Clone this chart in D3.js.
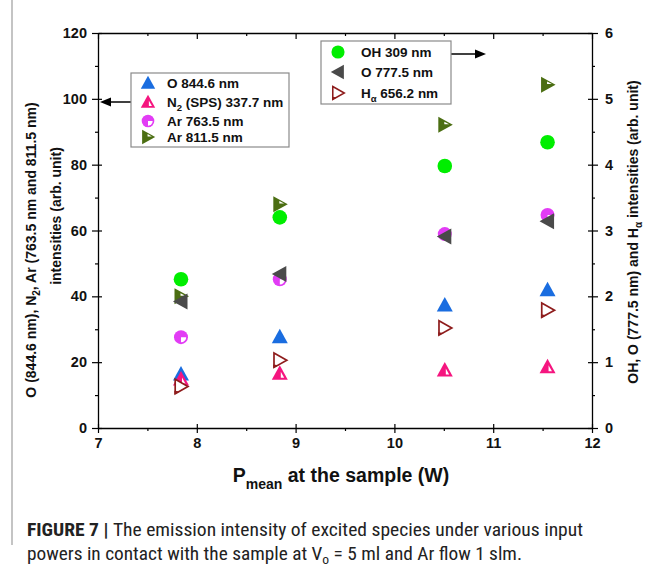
<!DOCTYPE html>
<html><head><meta charset="utf-8">
<script src="https://cdn.jsdelivr.net/npm/d3@7"></script>
<style>
html,body{margin:0;padding:0;background:#fff;}
svg{display:block;}
text{font-family:"Liberation Sans",Arial,sans-serif;}
</style></head>
<body>
<svg id="chart" width="648" height="575"></svg>
<script>
// ---------- data ----------
const power = [7.84, 8.84, 10.51, 11.55];          // P_mean (W)
const O844  = [16.4, 27.7, 37.4, 42.0];            // left axis
const N2SPS = [14.9, 16.6, 17.6, 18.6];            // left axis
const Ar763 = [27.6, 45.2, 58.9, 64.7];            // left axis
const Ar811 = [40.0, 68.0, 92.1, 104.3];           // left axis
const OH309 = [2.26, 3.20, 3.98, 4.34];            // right axis
const O777  = [1.92, 2.34, 2.91, 3.14];            // right axis
const Ha656 = [0.63, 1.03, 1.52, 1.79];            // right axis
const xTicks = [7, 8, 9, 10, 11, 12];
const yLeftTicks = [0, 20, 40, 60, 80, 100, 120];
const yRightTicks = [0, 1, 2, 3, 4, 5, 6];

// ---------- layout ----------
const svg = d3.select("#chart");
const L = 98, R = 592, T = 33, B = 428;
const x = d3.scaleLinear().domain([7, 12]).range([L, R]);
const yL = d3.scaleLinear().domain([0, 120]).range([B, T]);
const yR = d3.scaleLinear().domain([0, 6]).range([B, T]);
const FONT = "'Liberation Sans', Arial, sans-serif";

// left figure border line
svg.append("line").attr("x1", 12).attr("x2", 12).attr("y1", 0).attr("y2", 545)
  .attr("stroke", "#c4c4c4").attr("stroke-width", 2);

// ---------- axes ----------
function styleAxis(g) {
  g.attr("font-family", FONT);
  g.select(".domain").attr("stroke", "#000").attr("stroke-width", 1.3);
  g.selectAll(".tick line").attr("stroke", "#000").attr("stroke-width", 1.2);
  g.selectAll(".tick text").attr("font-size", 14.5).attr("font-weight", "bold").attr("fill", "#111");
}
const minorX = d3.range(7.5, 12, 1);
const minorYL = d3.range(10, 120, 20);
const minorYR = d3.range(0.5, 6, 1);
function minorStyle(g) { g.select(".domain").remove(); g.selectAll("line").attr("stroke", "#000").attr("stroke-width", 1.2); }

// bottom
const gB = svg.append("g").attr("transform", `translate(0,${B})`)
  .call(d3.axisBottom(x).tickValues(xTicks).tickFormat(d3.format("d")).tickSize(5).tickPadding(5).tickSizeOuter(0));
styleAxis(gB);
gB.selectAll(".tick line").attr("y1", -4);
svg.append("g").attr("transform", `translate(0,${B})`)
  .call(d3.axisBottom(x).tickValues(minorX).tickFormat("").tickSize(3).tickSizeOuter(0)).call(minorStyle);
// top
const gT = svg.append("g").attr("transform", `translate(0,${T})`)
  .call(d3.axisTop(x).tickValues(xTicks).tickFormat("").tickSize(-6).tickSizeOuter(0));
styleAxis(gT);
svg.append("g").attr("transform", `translate(0,${T})`)
  .call(d3.axisTop(x).tickValues(minorX).tickFormat("").tickSize(-3).tickSizeOuter(0)).call(minorStyle);
// left
const gL = svg.append("g").attr("transform", `translate(${L},0)`)
  .call(d3.axisLeft(yL).tickValues(yLeftTicks).tickFormat(d3.format("d")).tickSize(6).tickPadding(5).tickSizeOuter(0));
styleAxis(gL);
gL.selectAll(".tick line").attr("x1", 4);
svg.append("g").attr("transform", `translate(${L},0)`)
  .call(d3.axisLeft(yL).tickValues(minorYL).tickFormat("").tickSize(3).tickSizeOuter(0)).call(minorStyle);
// right
const gR = svg.append("g").attr("transform", `translate(${R},0)`)
  .call(d3.axisRight(yR).tickValues(yRightTicks).tickFormat(d3.format("d")).tickSize(6).tickPadding(7).tickSizeOuter(0));
styleAxis(gR);
gR.selectAll(".tick line").attr("x1", -4);
svg.append("g").attr("transform", `translate(${R},0)`)
  .call(d3.axisRight(yR).tickValues(minorYR).tickFormat("").tickSize(3).tickSizeOuter(0)).call(minorStyle);

// ---------- axis titles ----------
const xt = svg.append("text").attr("x", 341).attr("y", 482).attr("text-anchor", "middle")
  .attr("font-size", 19.5).attr("font-weight", "bold").attr("fill", "#111");
xt.append("tspan").text("P");
xt.append("tspan").attr("font-size", 14).attr("dy", 7).text("mean");
xt.append("tspan").attr("dy", -7).text(" at the sample (W)");

const yl1 = svg.append("text").attr("transform", "translate(36,250) rotate(-90)")
  .attr("text-anchor", "middle").attr("font-size", 14).attr("font-weight", "bold").attr("fill", "#111");
yl1.append("tspan").text("O (844.6 nm), N");
yl1.append("tspan").attr("font-size", 10).attr("dy", 4).text("2");
yl1.append("tspan").attr("dy", -4).text(", Ar (763.5 nm and 811.5 nm)");
svg.append("text").attr("transform", "translate(61,216) rotate(-90)")
  .attr("text-anchor", "middle").attr("font-size", 14).attr("font-weight", "bold").attr("fill", "#111")
  .text("intensities (arb. unit)");

const yr = svg.append("text").attr("transform", "translate(638,232) rotate(-90)")
  .attr("text-anchor", "middle").attr("font-size", 14).attr("font-weight", "bold").attr("fill", "#111");
yr.append("tspan").text("OH, O (777.5 nm) and H");
yr.append("tspan").attr("font-size", 10).attr("dy", 4).text("α");
yr.append("tspan").attr("dy", -4).text(" intensities (arb. unit)");

// ---------- marker shapes ----------
const C = {
  O844: "#1a6de0", N2: "#f5157f", Ar763: "#e23cf5", Ar811: "#4b6e12",
  OH: "#00ee00", O777: "#4a4a4a", Ha: "#8e1c1c"
};
function drawMarker(g, type) {
  if (type === "O844") {
    g.append("path").attr("d", "M0,-8L8,6.5L-8,6.5Z").attr("fill", C.O844);
  } else if (type === "N2") {
    g.append("path").attr("d", "M0,-8L8,6.5L-8,6.5Z").attr("fill", C.N2);
    g.append("path").attr("d", "M1,-1.5L1,4.5L4.4,4.5Z").attr("fill", "#fff");
  } else if (type === "Ar763") {
    g.append("circle").attr("r", 7).attr("fill", C.Ar763);
    g.append("path").attr("d", d3.arc()({innerRadius: 0, outerRadius: 5.2, startAngle: Math.PI / 2, endAngle: Math.PI})).attr("fill", "#fff");
  } else if (type === "Ar811") {
    g.append("path").attr("d", "M-6.5,-8L8,0L-6.5,8Z").attr("fill", C.Ar811);
    g.append("path").attr("d", "M-0.5,-3.2L4.3,-0.6L-0.5,-0.6Z").attr("fill", "#fff");
  } else if (type === "OH") {
    g.append("circle").attr("r", 7.3).attr("fill", C.OH);
  } else if (type === "O777") {
    g.append("path").attr("d", "M-8,0L6.5,-8L6.5,8Z").attr("fill", C.O777);
  } else if (type === "Ha") {
    g.append("path").attr("d", "M-5.8,-7.2L7,0L-5.8,7.2Z").attr("fill", "#fff")
      .attr("stroke", C.Ha).attr("stroke-width", 1.7).attr("stroke-linejoin", "miter");
    g.append("path").attr("d", "M-6.6,7.8L-6.6,4.2L-1,5Z").attr("fill", C.Ha);
  }
}

// ---------- series ----------
const series = [
  {type: "Ar763", vals: Ar763, scale: yL},
  {type: "O844",  vals: O844,  scale: yL},
  {type: "N2",    vals: N2SPS, scale: yL},
  {type: "Ar811", vals: Ar811, scale: yL},
  {type: "OH",    vals: OH309, scale: yR},
  {type: "O777",  vals: O777,  scale: yR},
  {type: "Ha",    vals: Ha656, scale: yR}
];
series.forEach(s => {
  svg.append("g").selectAll("g").data(s.vals).join("g")
    .attr("transform", (d, i) => `translate(${x(power[i])},${s.scale(d)})`)
    .each(function () { drawMarker(d3.select(this), s.type); });
});

// ---------- legends ----------
function arrowHead(x0, y0, dir) {
  svg.append("path").attr("d", `M${x0},${y0}L${x0 - dir * 11},${y0 - 4.5}L${x0 - dir * 11},${y0 + 4.5}Z`).attr("fill", "#000");
}
// left legend
svg.append("line").attr("x1", 131).attr("x2", 108).attr("y1", 102).attr("y2", 102).attr("stroke", "#000").attr("stroke-width", 1.5);
arrowHead(100, 102, -1);
svg.append("rect").attr("x", 131).attr("y", 73).attr("width", 158).attr("height", 74)
  .attr("fill", "#fff").attr("stroke", "#8a8a8a").attr("stroke-width", 1.2);
const legL = [
  {type: "O844", y: 83, label: ["O 844.6 nm"]},
  {type: "N2", y: 102, label: ["N", "2", " (SPS) 337.7 nm"]},
  {type: "Ar763", y: 121, label: ["Ar 763.5 nm"]},
  {type: "Ar811", y: 137, label: ["Ar 811.5 nm"]}
];
const legR = [
  {type: "OH", y: 52, label: ["OH 309 nm"]},
  {type: "O777", y: 72, label: ["O 777.5 nm"]},
  {type: "Ha", y: 93, label: ["H", "α", " 656.2 nm"]}
];
function drawLegend(items, sx, tx) {
  items.forEach(it => {
    const g = svg.append("g").attr("transform", `translate(${sx},${it.y}) scale(0.9)`);
    drawMarker(g, it.type);
    const t = svg.append("text").attr("x", tx).attr("y", it.y + 5).attr("font-size", 13.5)
      .attr("font-weight", "bold").attr("fill", "#111");
    t.append("tspan").text(it.label[0]);
    if (it.label.length > 1) {
      t.append("tspan").attr("font-size", 9.5).attr("dy", 4).text(it.label[1]);
      t.append("tspan").attr("dy", -4).text(it.label[2]);
    }
  });
}
drawLegend(legL, 148, 167);
// right legend
svg.append("line").attr("x1", 451).attr("x2", 478).attr("y1", 54).attr("y2", 54).attr("stroke", "#000").attr("stroke-width", 1.5);
arrowHead(486, 54, 1);
svg.append("rect").attr("x", 321).attr("y", 41).attr("width", 130).attr("height", 63)
  .attr("fill", "#fff").attr("stroke", "#8a8a8a").attr("stroke-width", 1.2);
drawLegend(legR, 338, 361);

// ---------- caption ----------
const capFont = "'Liberation Sans Narrow','Roboto Condensed','Arial Narrow',sans-serif";
const cap1 = svg.append("text").attr("x", 27).attr("y", 536).attr("font-size", 18.5)
  .attr("fill", "#222").attr("textLength", 556).attr("lengthAdjust", "spacingAndGlyphs")
  .style("font-family", capFont);
cap1.append("tspan").attr("font-weight", "bold").text("FIGURE 7 | ");
cap1.append("tspan").text("The emission intensity of excited species under various input");
const cap2 = svg.append("text").attr("x", 27).attr("y", 560).attr("font-size", 18.5)
  .attr("fill", "#222").attr("textLength", 495).attr("lengthAdjust", "spacingAndGlyphs")
  .style("font-family", capFont);
cap2.append("tspan").text("powers in contact with the sample at V");
cap2.append("tspan").attr("font-size", 13).attr("dy", 4).text("o");
cap2.append("tspan").attr("dy", -4).text(" = 5 ml and Ar flow 1 slm.");
</script>
</body></html>
